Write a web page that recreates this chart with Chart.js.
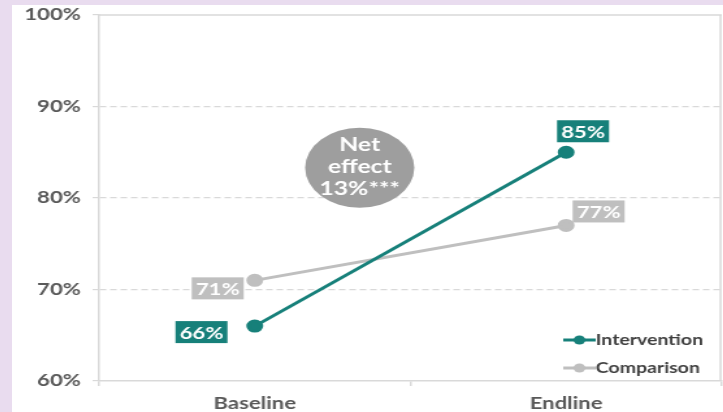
<!DOCTYPE html>
<html>
<head>
<meta charset="utf-8">
<script src="https://cdn.jsdelivr.net/npm/chart.js@4"></script>
<style>
    html, body { margin: 0; padding: 0; }
    body { width: 723px; height: 412px; background: #e9dcef; position: relative; overflow: hidden; }
    #panel { position: absolute; left: 12px; top: 5px; width: 711px; height: 407px; background: #ffffff; overflow: hidden; }
    #wrap { position: absolute; left: 0; top: 0; width: 554px; height: 407px; transform: scaleX(1.3); transform-origin: 0 0; }
</style>
</head>
<body>
<div id="panel">
    <div id="wrap"><canvas id="netChart"></canvas></div>
</div>
<script>

const categories = ["Baseline", "Endline"];
const intervention = [66, 85];
const comparison = [71, 77];
const yTickValues = [60, 70, 80, 90, 100];
const netEffectLines = ["Net", "effect", "13%***"];

const TEAL = "#17807a";
const GREY = "#bfbfbf";
const FONT = "Lato, 'Open Sans', sans-serif";

// value boxes + net effect bubble + legend
const annotatePlugin = {
    id: "annotate",
    afterDatasetsDraw(chart) {

        const ctx = chart.ctx;
        const x = chart.scales.x;
        const y = chart.scales.y;
        const area = chart.chartArea;

        // net effect bubble
        const ex = x.getPixelForValue(0.337);
        const ey = y.getPixelForValue(83.3);
        ctx.save();
        ctx.fillStyle = "#9e9e9e";
        ctx.beginPath();
        ctx.ellipse(ex, ey, 42, 40, 0, 0, Math.PI * 2);
        ctx.fill();
        ctx.fillStyle = "#ffffff";
        ctx.font = "bold 19px " + FONT;
        ctx.textAlign = "center";
        ctx.textBaseline = "middle";
        netEffectLines.forEach((line, i) => {
            ctx.fillText(line, ex, ey - 23 + i * 22);
        });
        ctx.restore();

        // value boxes
        const offsets = [
            [[-41, 6], [13, -21]],
            [[-28.5, 8], [25, -14]]
        ];
        chart.data.datasets.forEach((ds, di) => {
            const meta = chart.getDatasetMeta(di);
            meta.data.forEach((pt, i) => {
                const bx = pt.x + offsets[di][i][0];
                const by = pt.y + offsets[di][i][1];
                ctx.save();
                ctx.fillStyle = ds.borderColor;
                ctx.fillRect(bx - 20, by - 11, 40, 22);
                ctx.fillStyle = "#ffffff";
                ctx.font = "bold 17px " + FONT;
                ctx.textAlign = "center";
                ctx.textBaseline = "middle";
                ctx.fillText(ds.data[i] + "%", bx, by + 1);
                ctx.restore();
            });
        });

        // legend
        const lx = area.right - 122;
        chart.data.datasets.forEach((ds, di) => {
            const ly = area.bottom - 41 + di * 28;
            ctx.save();
            ctx.strokeStyle = ds.borderColor;
            ctx.fillStyle = ds.borderColor;
            ctx.lineWidth = 3;
            ctx.beginPath();
            ctx.moveTo(lx, ly);
            ctx.lineTo(lx + 25, ly);
            ctx.stroke();
            ctx.beginPath();
            ctx.arc(lx + 12.5, ly, 4.5, 0, Math.PI * 2);
            ctx.fill();
            ctx.fillStyle = "#404040";
            ctx.font = "bold 15px " + FONT;
            ctx.textAlign = "left";
            ctx.textBaseline = "middle";
            ctx.fillText(ds.label, lx + 25, ly);
            ctx.restore();
        });
    },
    beforeDatasetsDraw(chart) {
        // solid top line at 100% and right frame line
        const ctx = chart.ctx;
        const y = chart.scales.y;
        const area = chart.chartArea;
        const top = y.getPixelForValue(100);
        ctx.save();
        ctx.strokeStyle = "#d9d9d9";
        ctx.lineWidth = 1.5;
        ctx.beginPath();
        ctx.moveTo(area.left, top);
        ctx.lineTo(area.right, top);
        ctx.moveTo(area.right - 1, top);
        ctx.lineTo(area.right - 1, area.bottom);
        ctx.stroke();
        ctx.restore();
    }
};

new Chart(document.getElementById("netChart"), {

    type: "line",

    data: {
        labels: categories,
        datasets: [
            {
                label: "Intervention",
                data: intervention,
                borderColor: TEAL,
                backgroundColor: TEAL,
                borderWidth: 3,
                pointRadius: 5,
                pointHoverRadius: 5
            },
            {
                label: "Comparison",
                data: comparison,
                borderColor: GREY,
                backgroundColor: GREY,
                borderWidth: 3,
                pointRadius: 5,
                pointHoverRadius: 5
            }
        ]
    },

    options: {
        responsive: true,
        maintainAspectRatio: false,
        animation: false,
        layout: {
            padding: { top: 10, right: 0, left: 0, bottom: 0 }
        },
        plugins: {
            legend: { display: false },
            tooltip: { enabled: false }
        },
        scales: {
            x: {
                offset: true,
                afterFit: scale => { scale.height = 31; },
                grid: {
                    offset: true,
                    drawOnChartArea: false,
                    drawTicks: true,
                    tickLength: 5,
                    color: "#d9d9d9",
                    lineWidth: 1.5
                },
                border: { display: true, color: "#d9d9d9", width: 1.5 },
                ticks: {
                    padding: 7,
                    color: "#595959",
                    font: { family: FONT, size: 17, weight: "bold" }
                }
            },
            y: {
                min: 60,
                max: 100,
                afterFit: scale => {
                    scale.width = 67;
                    scale.paddingTop = 0;
                    scale.paddingBottom = 0;
                },
                afterBuildTicks: scale => {
                    scale.ticks = yTickValues.map(v => ({ value: v }));
                },
                grid: {
                    color: ctx => (ctx.tick && (ctx.tick.value === 60 || ctx.tick.value === 100)) ? "rgba(0,0,0,0)" : "#d9d9d9",
                    tickColor: "#d9d9d9",
                    lineWidth: 1.2,
                    tickLength: 5
                },
                border: { display: true, color: "#d9d9d9", width: 1.5, dash: [5, 3] },
                ticks: {
                    padding: 9,
                    color: "#595959",
                    font: { family: FONT, size: 17, weight: "bold" },
                    callback: v => v + "%"
                }
            }
        }
    },

    plugins: [annotatePlugin]

});

</script>
</body>
</html>
